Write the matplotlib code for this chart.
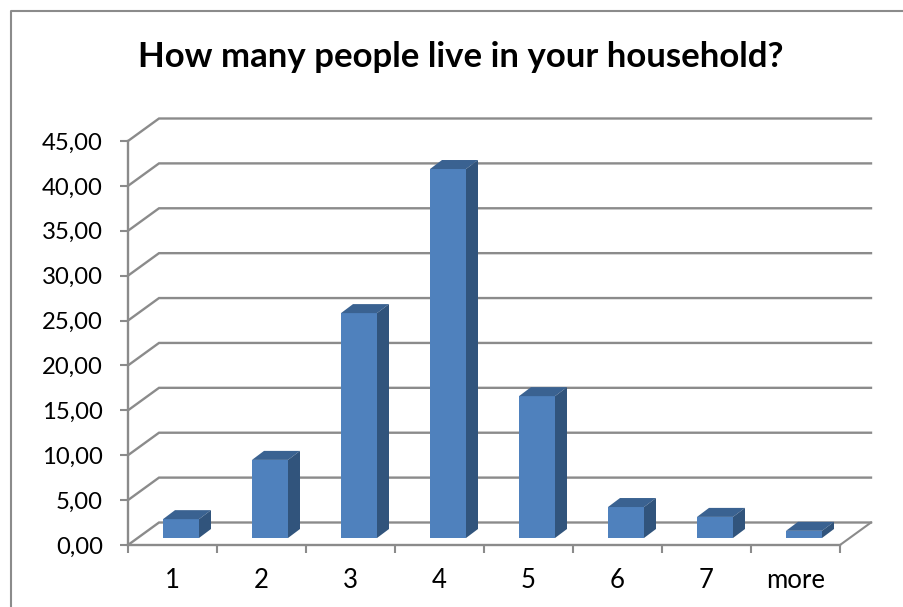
import matplotlib
matplotlib.use("Agg")
import matplotlib.pyplot as plt
from matplotlib.lines import Line2D
from matplotlib.patches import Polygon

categories = ['1', '2', '3', '4', '5', '6', '7', 'more']
values = [2.1, 8.7, 25.05, 41.1, 15.8, 3.45, 2.35, 0.8]
y_ticks = [0, 5, 10, 15, 20, 25, 30, 35, 40, 45]
y_labels = ['%.2f' % v for v in y_ticks]
y_labels = [s.replace('.', ',') for s in y_labels]

W, H = 904, 607
GREY = '#8b8b8b'
FRONT = '#4f81bd'
TOP = '#3a6291'
SIDE = '#31547c'

plt.rcParams['font.family'] = ['Lato', 'DejaVu Sans']

fig = plt.figure(figsize=(W / 100, H / 100), dpi=100)

# chart border, only the top and left edges are inside the crop
fig.add_artist(Line2D([10.5 / W, 10.5 / W, 1], [0, 1 - 11 / H, 1 - 11 / H],
                      transform=fig.transFigure, color=GREY, lw=1.5))

# front plane of the plot area, in pixels: x 128-840, y 141-545
ax = fig.add_axes([128 / W, 1 - 545 / H, (840 - 128) / W, (545 - 141) / H])
ax.set_xlim(0, 8)
ax.set_ylim(0, 45)
ax.patch.set_alpha(0)

# px -> data sizes for the 3d depth
px_x = 8 / (840 - 128)
px_y = 45 / (545 - 141)
wall_dx, wall_dy = 31 * px_x, 22.5 * px_y
bar_dx, bar_dy = 12 * px_x, 9 * px_y
shift_x, shift_y = 8.5 * px_x, 7 * px_y
bar_w = 36 * px_x

# gridlines on the wall plus the diagonal on the left side
for v in y_ticks:
    ax.plot([0, wall_dx, 8 + wall_dx], [v, v + wall_dy, v + wall_dy], color=GREY,
            lw=1.7, clip_on=False, zorder=1, solid_joinstyle='miter')
# floor right edge
ax.plot([8, 8 + wall_dx], [0, wall_dy], color=GREY, lw=1.5, clip_on=False, zorder=1)

# bars
for i, v in enumerate(values):
    x0 = i + 0.5 - bar_w / 2 + shift_x
    x1 = x0 + bar_w
    y0 = shift_y
    y1 = y0 + v
    ax.bar(x0, v, width=bar_w, bottom=y0, align='edge', color=FRONT, zorder=3, clip_on=False)
    ax.add_patch(Polygon([(x0, y1), (x1, y1), (x1 + bar_dx, y1 + bar_dy), (x0 + bar_dx, y1 + bar_dy)],
                         closed=True, facecolor=TOP, edgecolor='none', zorder=3, clip_on=False))
    ax.add_patch(Polygon([(x1, y0), (x1 + bar_dx, y0 + bar_dy), (x1 + bar_dx, y1 + bar_dy), (x1, y1)],
                         closed=True, facecolor=SIDE, edgecolor='none', zorder=3, clip_on=False))

for s in ['top', 'right']:
    ax.spines[s].set_visible(False)
for s in ['left', 'bottom']:
    ax.spines[s].set_color(GREY)
    ax.spines[s].set_linewidth(1.7)

ax.set_yticks(y_ticks)
ax.set_yticklabels(y_labels)
ax.set_xticks(range(9))
ax.set_xticklabels([])
ax.tick_params(axis='y', direction='out', length=6, width=1.5, color=GREY, labelsize=17.2,
               labelcolor='black', pad=12)
ax.tick_params(axis='x', direction='out', length=6, width=1.5, color=GREY)

# category labels sit in the middle of each slot, no tick there
for i, c in enumerate(categories):
    ax.annotate(c, (i + 0.5, 0), xytext=(0, -23), textcoords='offset pixels', ha='center', va='top',
                fontsize=18.5, color='black')

fig.text(461 / W, 1 - 57 / H, 'How many people live in your household?', ha='center', va='center',
         fontsize=25, fontweight='bold', color='black')

fig.savefig('out.png', dpi=100)
